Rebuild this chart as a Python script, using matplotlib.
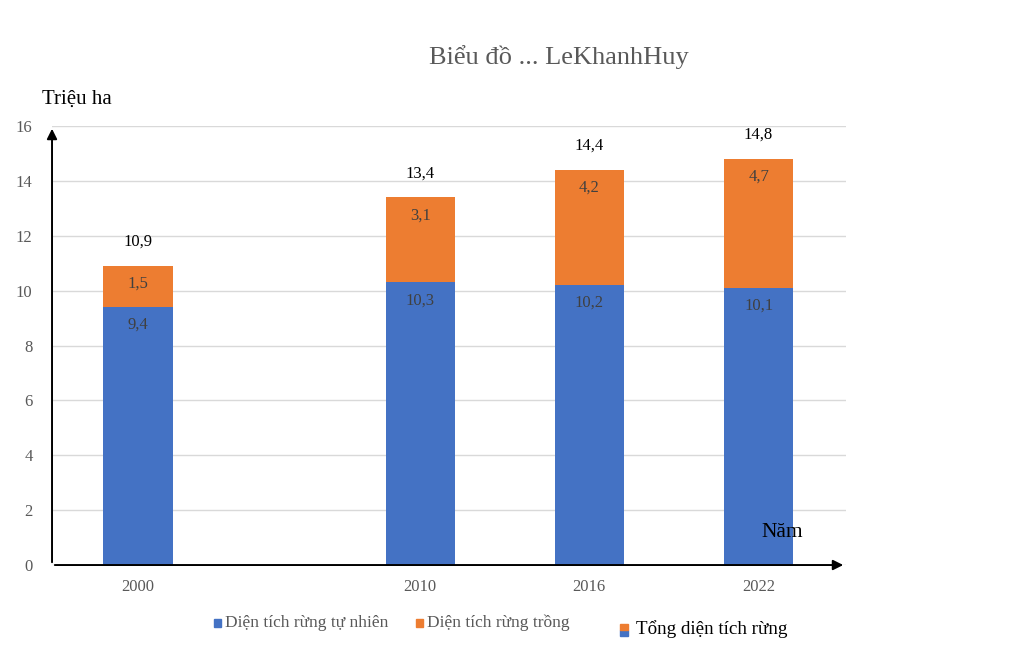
import matplotlib.pyplot as plt
from matplotlib.patches import Rectangle

years = [2000, 2010, 2016, 2022]
tu_nhien = [9.4, 10.3, 10.2, 10.1]
rung_trong = [1.5, 3.1, 4.2, 4.7]
tong = [10.9, 13.4, 14.4, 14.8]

def fmt(v):
    return f"{v:.1f}".replace(".", ",")

plt.rcParams['font.family'] = ['Liberation Serif', 'DejaVu Serif']

blue = '#4472C4'
orange = '#ED7D31'
gray = '#595959'

fig = plt.figure(figsize=(10.24, 6.61), dpi=100)
ax = fig.add_axes([0.0508, 0.1452, 0.7754, 0.6642])

w = 2.45
ax.bar(years, tu_nhien, width=w, color=blue, zorder=3)
ax.bar(years, rung_trong, width=w, bottom=tu_nhien, color=orange, zorder=3)

for x, a, b, t in zip(years, tu_nhien, rung_trong, tong):
    ax.text(x, a - 0.65, fmt(a), ha='center', va='center', fontsize=12, color='#404040', zorder=4)
    ax.text(x, t - 0.65, fmt(b), ha='center', va='center', fontsize=12, color='#404040', zorder=4)
    ax.text(x, t + 0.88, fmt(t), ha='center', va='center', fontsize=12, color='black', zorder=4)

ax.set_xlim(1996.95, 2025.1)
ax.set_ylim(0, 16)
ax.set_yticks(range(0, 17, 2))
ax.set_xticks(years)
ax.grid(axis='y', color='#d9d9d9', linewidth=1, zorder=0)
for s in ax.spines.values():
    s.set_visible(False)
ax.tick_params(length=0, labelsize=12, labelcolor=gray)
ax.tick_params(axis='y', pad=14)
ax.tick_params(axis='x', pad=10)

# axis arrows
ax.annotate('', xy=(0, 1.0), xytext=(0, 0), xycoords='axes fraction',
            arrowprops=dict(arrowstyle='-|>', color='black', lw=1.4, mutation_scale=15), zorder=5)
ax.annotate('', xy=(1.0, 0), xytext=(0, 0), xycoords='axes fraction',
            arrowprops=dict(arrowstyle='-|>', color='black', lw=1.4, mutation_scale=15), zorder=5)

fig.text(0.546, 0.914, 'Biểu đồ ... LeKhanhHuy', ha='center', va='center', fontsize=19, color=gray)
fig.text(0.041, 0.85, 'Triệu ha', ha='left', va='center', fontsize=15, color='black')
ax.text(2022.1, 1.2, 'Năm', ha='left', va='center', fontsize=15.5, color='black', zorder=5)

# legend
fs = 12.5
fig.patches.append(Rectangle((0.2085, 0.052), 0.0075, 0.0115, transform=fig.transFigure, color=blue))
fig.text(0.2195, 0.058, 'Diện tích rừng tự nhiên', ha='left', va='center', fontsize=fs, color=gray)
fig.patches.append(Rectangle((0.406, 0.052), 0.0075, 0.0115, transform=fig.transFigure, color=orange))
fig.text(0.417, 0.058, 'Diện tích rừng trồng', ha='left', va='center', fontsize=fs, color=gray)
fig.patches.append(Rectangle((0.6055, 0.038), 0.0075, 0.009, transform=fig.transFigure, color=blue))
fig.patches.append(Rectangle((0.6055, 0.047), 0.0075, 0.009, transform=fig.transFigure, color=orange))
fig.text(0.621, 0.049, 'Tổng diện tích rừng', ha='left', va='center', fontsize=13.7, color='black')

fig.savefig('out.png', dpi=100)
